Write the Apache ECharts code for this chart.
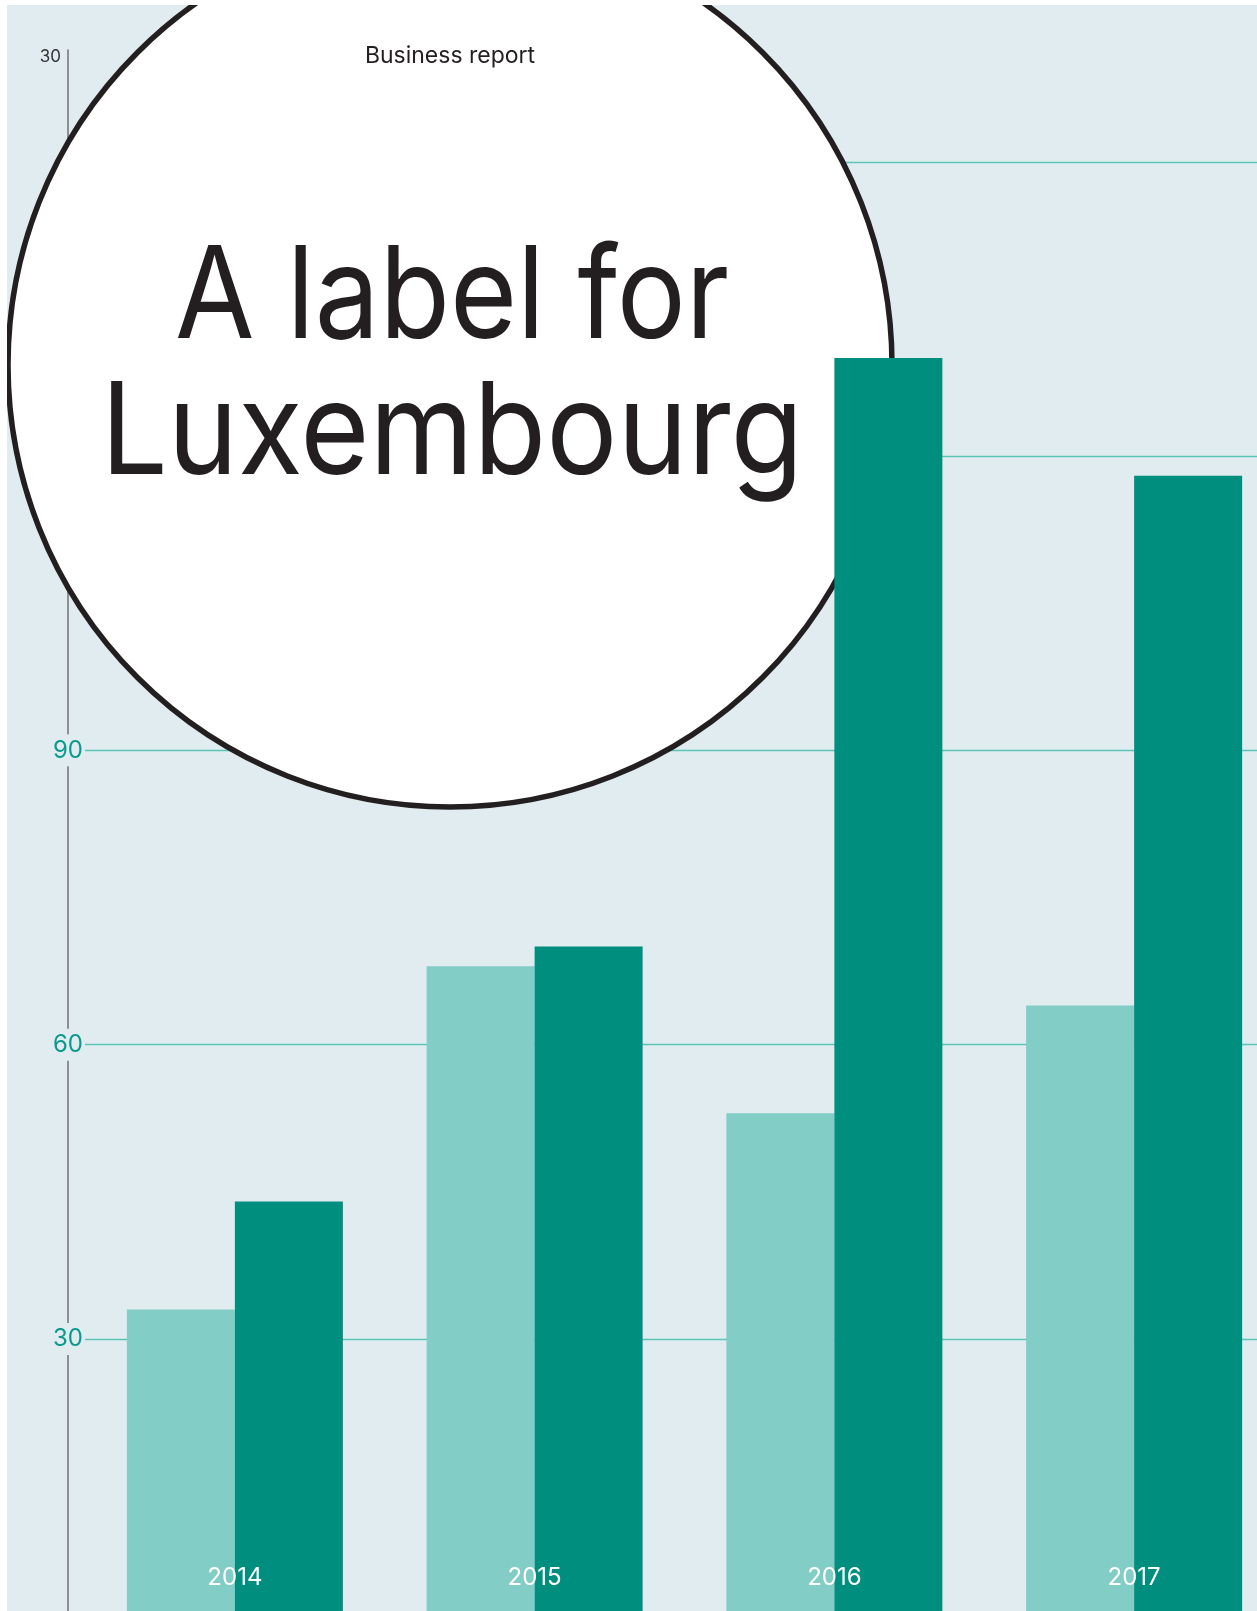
<!DOCTYPE html>
<html>
<head>
<meta charset="utf-8">
<style>
  html, body { margin: 0; padding: 0; background: #fff; }
  #panel { position: absolute; left: 7px; top: 5px; width: 1250px; height: 1606px; overflow: hidden; background: #e1ecf1; }
  #main { position: absolute; left: 0; top: 0; width: 1300px; height: 1650px; }
</style>
<script src="https://cdn.jsdelivr.net/npm/echarts@6/dist/echarts.min.js"></script>
</head>
<body>
<div id="panel"><div id="main"></div></div>
<script>
var years = ['2014', '2015', '2016', '2017'];
var lightValues = [33, 68, 53, 64];
var darkValues = [44, 70, 130, 118];
var shownTicks = [30, 60, 90];

var myChart = echarts.init(document.getElementById('main'));
var font = 'Inter, "Noto Sans", sans-serif';

var option = {
    animation: false,
    grid: {
        left: 78,
        right: 23,
        top: 45,
        bottom: 21.8
    },
    xAxis: {
        type: 'category',
        data: years,
        z: 10,
        axisLine: { show: false },
        axisTick: { show: false },
        axisLabel: {
            inside: true,
            margin: 43,
            color: '#fff',
            fontSize: 24,
            fontFamily: font
        }
    },
    yAxis: {
        type: 'value',
        min: 0,
        max: 161.4,
        interval: 30,
        offset: 17,
        axisLine: {
            show: true,
            lineStyle: { color: '#707070', width: 1.5 }
        },
        axisTick: { show: false },
        axisLabel: {
            showMaxLabel: false,
            showMinLabel: false,
            align: 'center',
            margin: 0,
            color: '#0c9a8c',
            fontSize: 24,
            fontFamily: font,
            lineHeight: 24,
            backgroundColor: '#e1ecf1',
            padding: [4, 2],
            formatter: function (v) {
                return shownTicks.indexOf(v) >= 0 ? String(v) : '';
            }
        },
        splitLine: {
            show: true,
            showMaxLine: false,
            lineStyle: { color: '#5cc4b7', width: 1.3 }
        }
    },
    graphic: [
        {
            type: 'circle',
            z: 1,
            shape: { cx: 443, cy: 360, r: 442 },
            style: { fill: '#fff', stroke: '#231f20', lineWidth: 5.5 }
        },
        {
            type: 'text',
            z: 3,
            x: 443,
            y: 51,
            style: {
                text: 'Business report',
                fill: '#231f20',
                font: '23px ' + font,
                align: 'center',
                verticalAlign: 'middle'
            }
        },
        {
            type: 'text',
            z: 3,
            x: 445,
            y: 295,
            scaleX: 0.9,
            style: {
                text: 'A label for',
                fill: '#231f20',
                font: '128px ' + font,
                align: 'center',
                verticalAlign: 'middle'
            }
        },
        {
            type: 'text',
            z: 3,
            x: 445,
            y: 431,
            scaleX: 0.928,
            style: {
                text: 'Luxembourg',
                fill: '#231f20',
                font: '128px ' + font,
                align: 'center',
                verticalAlign: 'middle'
            }
        },
        {
            type: 'text',
            z: 3,
            x: 54,
            y: 52,
            style: {
                text: '30',
                fill: '#333',
                font: '17px ' + font,
                align: 'right',
                verticalAlign: 'middle'
            }
        }
    ],
    series: [
        {
            name: 'light',
            type: 'bar',
            barWidth: 108,
            barGap: '0%',
            data: lightValues,
            itemStyle: { color: '#82cdc5' }
        },
        {
            name: 'dark',
            type: 'bar',
            barWidth: 108,
            barGap: '0%',
            data: darkValues,
            itemStyle: { color: '#008e7f' }
        }
    ]
};
myChart.setOption(option);
</script>
</body>
</html>
